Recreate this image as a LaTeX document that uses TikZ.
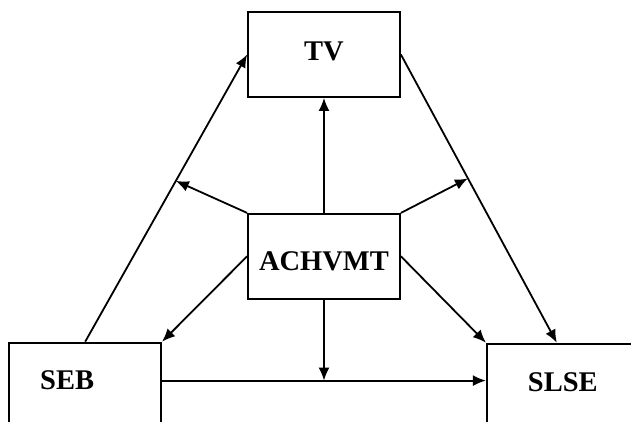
\documentclass[tikz,border=0pt]{standalone}
\usepackage{fontspec}
\setmainfont{Liberation Serif}
\usetikzlibrary{shapes,arrows.meta,positioning,calc}

\begin{document}
\begin{tikzpicture}[x=1pt, y=1pt, line width=1.8pt,
    box/.style={draw, rectangle, minimum width=152pt, minimum height=85pt, font=\fontsize{28.5}{34}\selectfont\bfseries},
    arr/.style={-{Latex[length=13pt,width=11pt]}}]
    \useasboundingbox (0,0) rectangle (631,421);
    \clip (0,0) rectangle (631,421);

    \node (tv) [box, text depth=7pt] at (324,366.5) {TV};
    \node (achv) [box, text height=29pt, below=115pt of tv] {ACHVMT};
    \node (seb) [box, text depth=11pt, text width=90pt, inner xsep=31pt, align=left, below left=42pt and 85pt of achv] {SEB};
    \node (slse) [box, text depth=8pt, below right=43pt and 85pt of achv] {SLSE};

    \draw [arr] (seb.north) -- (tv.west);
    \draw [arr] (tv.east) -- ([xshift=-6pt]slse.north);
    \draw [arr] (achv.north) -- (tv.south);

    \coordinate (m1) at ($(seb.north)!0.56!(tv.west)$);
    \coordinate (m2) at ($(tv.east)!0.43!([xshift=-6pt]slse.north)$);
    \draw [arr] (achv.north west) -- (m1);
    \draw [arr] (achv.north east) -- (m2);

    \draw [arr] (achv.west) -- (seb.north east);
    \draw [arr] (achv.east) -- (slse.north west);

    \coordinate (l) at ([yshift=4.5pt]seb.east);
    \coordinate (r) at (l -| slse.west);
    \draw [arr] (l) -- (r);
    \coordinate (m3) at ($(l)!0.5!(r)$);
    \draw [arr] (achv.south) -- (m3);

\end{tikzpicture}
\end{document}
